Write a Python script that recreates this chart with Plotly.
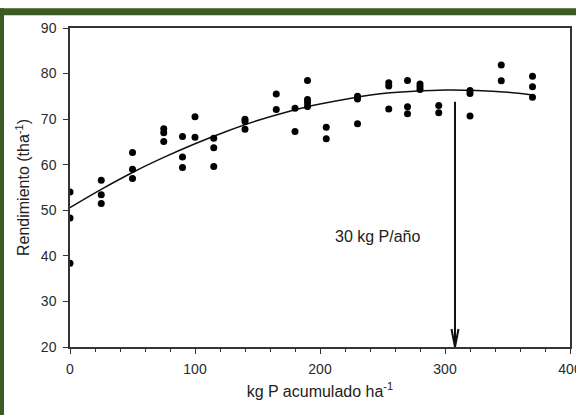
import plotly.graph_objects as go

# Accumulated P (kg/ha) and yield observations
p_acum = [0, 0, 0,
          25, 25, 25,
          50, 50, 50,
          75, 75, 75,
          90, 90, 90,
          100, 100,
          115, 115, 115,
          140, 140, 140,
          165, 165,
          180, 180,
          190, 190, 190, 190,
          205, 205,
          230, 230, 230,
          255, 255, 255,
          270, 270, 270,
          280, 280, 280,
          295, 295,
          320, 320, 320,
          345, 345,
          370, 370, 370]
rendimiento = [54.0, 48.3, 38.4,
               56.6, 53.4, 51.5,
               62.7, 59.0, 57.0,
               67.9, 67.0, 65.1,
               66.2, 61.7, 59.4,
               70.5, 66.0,
               65.8, 63.7, 59.6,
               70.0, 69.5, 67.8,
               75.5, 72.1,
               72.4, 67.3,
               78.5, 74.3, 73.6, 72.8,
               68.2, 65.7,
               75.0, 74.4, 69.0,
               78.0, 77.3, 72.2,
               78.5, 72.7, 71.2,
               77.7, 77.1, 76.5,
               73.0, 71.4,
               76.3, 75.6, 70.7,
               81.9, 78.4,
               79.4, 77.1, 74.8]

# Fitted response curve
curva_x = [0, 25, 50, 75, 100, 125, 150, 175, 200, 225, 250, 275, 300, 325, 350, 370]
curva_y = [50.6, 54.6, 58.3, 61.6, 64.6, 67.3, 69.7, 71.7, 73.3, 74.6, 75.6, 76.1,
           76.4, 76.3, 75.9, 75.3]

# Optimum marker
flecha_x = 308
flecha_top = 73.8
flecha_base = 20
etiqueta = "30 kg P/año"

x_ticks = [0, 100, 200, 300, 400]
y_ticks = [20, 30, 40, 50, 60, 70, 80, 90]

FONT = "Liberation Sans, Arial, sans-serif"
AXC = "#333333"
GREEN = "#3b5a24"

fig = go.Figure()

fig.add_trace(go.Scatter(
    x=curva_x, y=curva_y, mode="lines",
    line=dict(color="#111111", width=1.5, shape="spline"),
    hoverinfo="skip", showlegend=False))

fig.add_trace(go.Scatter(
    x=p_acum, y=rendimiento, mode="markers",
    marker=dict(color="black", size=7, line=dict(width=0)),
    showlegend=False))

# Arrow shaft
fig.add_shape(type="line", xref="x", yref="y",
              x0=flecha_x, x1=flecha_x, y0=flecha_top, y1=flecha_base,
              line=dict(color="#111111", width=2))
# Open V arrowhead, sized in pixels around the tip
fig.add_shape(type="path", xref="x", yref="y",
              xsizemode="pixel", ysizemode="pixel",
              xanchor=flecha_x, yanchor=flecha_base,
              path="M-3.5,18 L0,0 L3.5,18",
              line=dict(color="#111111", width=2))

fig.add_annotation(x=0.525, y=0.345, xref="paper", yref="paper",
                   text=etiqueta, showarrow=False, xanchor="left",
                   font=dict(family=FONT, size=16, color="#222222"))

# Dark green frame bands around the figure
fig.add_shape(type="rect", xref="paper", yref="paper",
              x0=-0.15, x1=-0.132, y0=-0.25, y1=1.062,
              fillcolor=GREEN, line=dict(width=0), layer="above")
fig.add_shape(type="rect", xref="paper", yref="paper",
              x0=-0.15, x1=1.05, y0=1.040, y1=1.062,
              fillcolor=GREEN, line=dict(width=0), layer="above")

fig.update_xaxes(
    range=[0, 400], tickvals=x_ticks, ticks="outside", ticklen=5,
    tickwidth=1.2, tickcolor=AXC, showline=True, linecolor=AXC, linewidth=1.5,
    mirror=True, showgrid=False, zeroline=False, automargin=False,
    minor=dict(dtick=20, ticks="outside", ticklen=3, tickcolor=AXC, tickwidth=1),
    tickfont=dict(family=FONT, size=14, color="#2a2a2a"),
    ticklabelstandoff=3, ticklabeloverflow="allow",
    title=dict(text="kg P acumulado ha<sup>-1</sup>", standoff=10,
               font=dict(family=FONT, size=16, color="#222222")))

fig.update_yaxes(
    range=[20, 90], tickvals=y_ticks, ticks="outside", ticklen=5,
    tickwidth=1.2, tickcolor=AXC, showline=True, linecolor=AXC, linewidth=1.5,
    mirror=True, showgrid=False, zeroline=False, automargin=False,
    tickfont=dict(family=FONT, size=14, color="#2a2a2a"),
    ticklabelstandoff=4, ticklabeloverflow="allow",
    title=dict(text="Rendimiento (tha<sup>-1</sup>)", standoff=7,
               font=dict(family=FONT, size=16, color="#222222")))

fig.update_layout(
    width=576, height=415,
    margin=dict(l=70, r=6, t=28, b=68),
    paper_bgcolor="white", plot_bgcolor="white",
    font=dict(family=FONT))

fig.write_html("out.html")
